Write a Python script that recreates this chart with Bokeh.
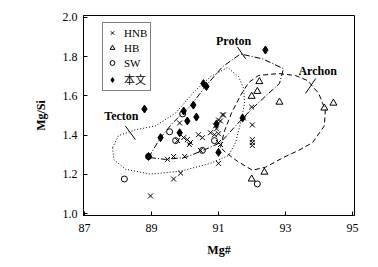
from bokeh.plotting import figure
from bokeh.models import Range1d, FixedTicker, PrintfTickFormatter, Legend, LegendItem, Label
from bokeh.embed import file_html
from bokeh.resources import INLINE

# ---- data ----
hnb_x = [88.97, 89.66, 89.87, 89.48, 89.66, 89.99, 90.46, 89.78, 89.96, 90.13, 90.40, 90.52,
         90.76, 90.88, 91.00, 91.00, 91.06, 91.00, 91.00, 91.12, 91.06, 91.15, 91.75, 91.99,
         92.01, 92.01, 92.01, 92.01, 89.84, 90.07, 90.16, 88.91, 90.91, 90.94]
hnb_y = [1.090, 1.176, 1.206, 1.276, 1.291, 1.291, 1.322, 1.372, 1.387, 1.352, 1.402, 1.387,
         1.412, 1.402, 1.407, 1.362, 1.352, 1.256, 1.477, 1.503, 1.472, 1.503, 1.487, 1.543,
         1.452, 1.377, 1.362, 1.347, 1.462, 1.377, 1.362, 1.291, 1.447, 1.432]

hb_x = [92.22, 92.16, 91.99, 92.82, 94.16, 94.43, 92.37, 91.99]
hb_y = [1.673, 1.623, 1.598, 1.568, 1.538, 1.563, 1.211, 1.176]

sw_x = [89.93, 89.54, 89.72, 88.91, 88.19, 90.52, 90.88, 92.16]
sw_y = [1.508, 1.417, 1.372, 1.291, 1.176, 1.322, 1.372, 1.151]

bw_x = [88.79, 92.40, 90.55, 90.64, 90.25, 89.96, 90.34, 90.07, 89.84, 89.27, 88.91, 91.00, 91.72, 90.94]
bw_y = [1.533, 1.834, 1.663, 1.648, 1.553, 1.523, 1.492, 1.472, 1.412, 1.387, 1.291, 1.312, 1.487, 1.457]

tecton_x = [87.84, 88.01, 88.52, 89.12, 89.72, 90.31, 90.76, 91.27, 91.60, 91.75, 91.78,
            91.66, 91.51, 91.30, 90.76, 89.87, 88.97, 88.22, 87.87]
tecton_y = [1.337, 1.397, 1.427, 1.447, 1.513, 1.628, 1.698, 1.745, 1.698, 1.638, 1.563,
            1.462, 1.362, 1.296, 1.256, 1.216, 1.201, 1.226, 1.276]

proton_x = [88.91, 89.27, 89.63, 90.16, 90.61, 91.12, 91.66, 92.31, 92.94, 92.82, 92.40,
            91.96, 91.51, 91.06, 90.61, 90.01, 89.42]
proton_y = [1.286, 1.387, 1.462, 1.548, 1.648, 1.749, 1.814, 1.789, 1.739, 1.663, 1.598,
            1.528, 1.447, 1.362, 1.327, 1.286, 1.276]

archon_x = [91.06, 91.18, 91.39, 91.66, 91.90, 92.19, 92.79, 93.30, 93.66, 93.99, 94.19,
            94.16, 93.81, 93.39, 92.94, 92.40, 92.01, 91.57, 91.21]
archon_y = [1.337, 1.422, 1.513, 1.603, 1.668, 1.704, 1.714, 1.704, 1.678, 1.613, 1.528,
            1.447, 1.362, 1.322, 1.286, 1.236, 1.221, 1.266, 1.312]

x_ticks = [87, 89, 91, 93, 95]
y_ticks = [1.0, 1.2, 1.4, 1.6, 1.8, 2.0]

SERIF = "Liberation Serif"

p = figure(width=368, height=259, output_backend="svg", toolbar_location=None,
           x_range=Range1d(86.97, 95.06), y_range=Range1d(0.99, 2.01))
p.min_border_left = 83
p.min_border_right = 14
p.min_border_top = 15
p.min_border_bottom = 40
p.grid.visible = False
p.outline_line_color = "black"
p.outline_line_width = 1
p.background_fill_color = "white"
p.border_fill_color = "white"

for ax in (p.xaxis[0], p.yaxis[0]):
    ax.major_tick_in = 4
    ax.major_tick_out = 0
    ax.minor_tick_line_color = None
    ax.axis_line_color = "black"
    ax.major_tick_line_color = "black"
    ax.major_label_text_font = SERIF
    ax.major_label_text_font_size = "12px"
    ax.major_label_text_color = "black"
    ax.axis_label_text_font = SERIF
    ax.axis_label_text_font_size = "12px"
    ax.axis_label_text_font_style = "bold"
    ax.axis_label_text_color = "black"

p.xaxis.ticker = FixedTicker(ticks=x_ticks)
p.yaxis.ticker = FixedTicker(ticks=y_ticks)
p.yaxis.formatter = PrintfTickFormatter(format="%.1f")
p.xaxis.axis_label = "Mg#"
p.yaxis.axis_label = "Mg/Si"
p.xaxis.major_label_standoff = 8
p.yaxis.major_label_standoff = 6
p.xaxis.axis_label_standoff = 8
p.yaxis.axis_label_standoff = 12

# region outlines
def closed(a):
    return list(a) + [a[0]]

p.line(closed(tecton_x), closed(tecton_y), line_color="black", line_width=1, line_dash="1 2")
p.line(closed(proton_x), closed(proton_y), line_color="black", line_width=1, line_dash="6 2 1 2")
p.line(closed(archon_x), closed(archon_y), line_color="black", line_width=1, line_dash="5 3")

# leader lines
p.line([88.22, 88.52], [1.447, 1.377], line_color="black", line_width=1)
p.line([91.57, 91.81], [1.849, 1.789], line_color="black", line_width=1)
p.line([93.60, 93.90], [1.613, 1.688], line_color="black", line_width=1)

for txt, xx, yy in [("Tecton", 88.10, 1.497), ("Proton", 91.45, 1.879), ("Archon", 93.96, 1.729)]:
    p.add_layout(Label(x=xx, y=yy, text=txt, text_font=SERIF, text_font_size="12px",
                       text_font_style="bold", text_align="center", text_baseline="middle",
                       text_color="black"))

r1 = p.scatter(hnb_x, hnb_y, marker="x", size=7, line_color="black", line_width=1)
r2 = p.scatter(hb_x, hb_y, marker="triangle", size=7, line_color="black", fill_color=None, line_width=1)
r3 = p.scatter(sw_x, sw_y, marker="circle", size=6, line_color="black", fill_color=None, line_width=1)
r4 = p.scatter(bw_x, bw_y, marker="diamond", size=8, line_color="black", fill_color="black")

legend = Legend(items=[LegendItem(label="HNB", renderers=[r1]),
                       LegendItem(label="HB", renderers=[r2]),
                       LegendItem(label="SW", renderers=[r3]),
                       LegendItem(label="本文", renderers=[r4])],
                location=(19, 124))
legend.label_text_font = "Liberation Serif, Noto Sans CJK SC"
legend.label_text_font_size = "11px"
legend.label_text_color = "black"
legend.border_line_color = "black"
legend.border_line_width = 1
legend.background_fill_alpha = 1
legend.glyph_width = 12
legend.glyph_height = 13
legend.label_height = 13
legend.spacing = 2
legend.padding = 3
legend.margin = 0
legend.label_standoff = 6
p.add_layout(legend, "center")

open("out.html", "w").write(file_html(p, INLINE))
